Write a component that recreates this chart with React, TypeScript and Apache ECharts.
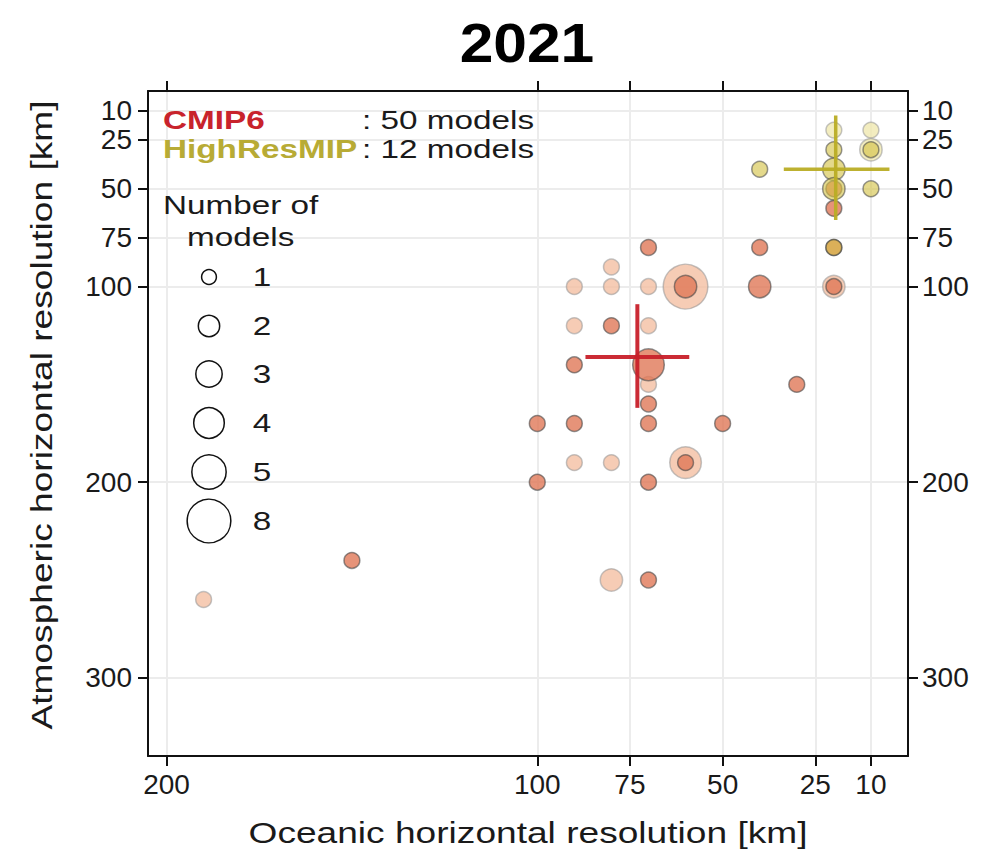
import React, { useEffect, useRef } from "react";
import * as echarts from "echarts";

// Axis ticks
const xTicks = [200, 100, 75, 50, 25, 10];
const yTicks = [10, 25, 50, 75, 100, 200, 300];

// [oceanic km, atmospheric km, number of models]
const cmipFaded = [
  [80, 90, 1], [90, 100, 1], [80, 100, 1], [70, 100, 1], [60, 100, 8],
  [90, 120, 1], [70, 120, 1], [70, 150, 1], [90, 190, 1], [80, 190, 1],
  [60, 190, 4], [80, 250, 2], [190, 260, 1], [20, 100, 2],
];
const cmipMain = [
  [70, 80, 1], [40, 80, 1], [60, 100, 2], [40, 100, 2], [20, 100, 1],
  [80, 120, 1], [90, 140, 1], [70, 140, 4], [30, 150, 1], [70, 160, 1],
  [100, 170, 1], [90, 170, 1], [70, 170, 1], [50, 170, 1], [60, 190, 1],
  [100, 200, 1], [70, 200, 1], [150, 240, 1], [70, 250, 1],
  [20, 60, 1], [20, 80, 1], [20, 50, 1],
];
const hrFaded = [[20, 20, 1], [10, 20, 1], [10, 30, 2]];
const hrMain = [
  [20, 30, 1], [10, 30, 1], [20, 40, 2], [40, 40, 1], [20, 50, 2],
  [10, 50, 1], [20, 80, 1],
];

// mean and spread (crosshairs)
const cmipMean = [73, 136];
const cmipOceanRange = [87, 59];
const cmipAtmosRange = [109, 162];
const hrMean = [19.5, 40];
const hrOceanRange = [33.5, 5];
const hrAtmosRange = [12.5, 66];

const legendCounts = [1, 2, 3, 4, 5, 8];
const SIZE_K = 15.8;

const FONT = '"Liberation Sans", Arial, Helvetica, sans-serif';
const SX = 1.28;

function txt(text: string, x: number, y: number, size: number, opts: any = {}) {
  return {
    type: "text",
    x,
    y,
    scaleX: opts.scaleX ?? SX,
    rotation: opts.rotation ?? 0,
    z: 100,
    style: {
      text,
      fontFamily: FONT,
      fontSize: size,
      fontWeight: opts.bold ? "bold" : "normal",
      fill: opts.color ?? "#1a1a1a",
      textAlign: opts.align ?? "left",
      textVerticalAlign: "middle",
      align: opts.align ?? "left",
      verticalAlign: "middle",
    },
  };
}

export default function App() {
  const ref = useRef<HTMLDivElement>(null);
  useEffect(() => {
    const chart = echarts.init(ref.current!, null, { renderer: "svg" });
    const sym = (v: number[]) => SIZE_K * Math.sqrt(v[2]);
    const axisCommon = {
      type: "value",
      axisLine: { show: true, onZero: false, lineStyle: { color: "#111", width: 2 } },
      axisTick: { show: true, inside: false, length: 10, lineStyle: { color: "#111", width: 2 } },
    };
    const labelStyle = { fontFamily: FONT, fontSize: 28, color: "#1a1a1a" };
    const legendY = [277, 326, 374, 423, 472, 521];
    const graphics: any[] = [
      txt("2021", 527, 42, 56, { bold: true, align: "center", scaleX: 1.08, color: "#000" }),
      txt("CMIP6", 163, 120, 26, { bold: true, color: "#c8232c" }),
      txt("HighResMIP", 163, 149, 26, { bold: true, color: "#b8ab35" }),
      txt(": 50 models", 362, 120, 26),
      txt(": 12 models", 362, 149, 26),
      txt("Number of", 163, 205, 26),
      txt("models", 187, 237, 26),
      txt("Oceanic horizontal resolution [km]", 528, 833, 29, { align: "center" }),
      txt("Atmospheric horizontal resolution [km]", 42, 415, 29, {
        align: "center",
        rotation: Math.PI / 2,
      }),
    ];
    legendCounts.forEach((n, i) => {
      graphics.push({
        type: "circle",
        z: 100,
        shape: { cx: 209, cy: legendY[i], r: (SIZE_K * Math.sqrt(n)) / 2 - 0.5 },
        style: { fill: "none", stroke: "#111", lineWidth: 1.5 },
      });
      graphics.push(txt(String(n), 262, legendY[i], 26, { align: "center" }));
    });

    const option: any = {
      animation: false,
      backgroundColor: "#fff",
      grid: { left: 148, right: 86, top: 91, bottom: 103, containLabel: false },
      xAxis: [
        {
          ...axisCommon,
          position: "bottom",
          min: 0,
          max: 205,
          inverse: true,
          axisTick: { ...axisCommon.axisTick, customValues: xTicks },
          axisLabel: { ...labelStyle, margin: 14, customValues: xTicks },
          splitLine: { show: true, lineStyle: { color: "#ececec", width: 2 } },
        },
        {
          ...axisCommon,
          position: "top",
          min: 0,
          max: 205,
          inverse: true,
          axisTick: { ...axisCommon.axisTick, customValues: xTicks },
          axisLabel: { show: false },
          splitLine: { show: false },
        },
      ],
      yAxis: [
        {
          ...axisCommon,
          position: "left",
          min: 0,
          max: 340,
          inverse: true,
          axisTick: { ...axisCommon.axisTick, customValues: yTicks },
          axisLabel: { ...labelStyle, margin: 16, customValues: yTicks },
          splitLine: { show: true, lineStyle: { color: "#ececec", width: 2 } },
        },
        {
          ...axisCommon,
          position: "right",
          min: 0,
          max: 340,
          inverse: true,
          axisTick: { ...axisCommon.axisTick, customValues: yTicks },
          axisLabel: { ...labelStyle, margin: 14, customValues: yTicks },
          splitLine: { show: false },
        },
      ],
      series: [
        {
          type: "scatter",
          data: cmipFaded,
          symbolSize: sym,
          z: 2,
          itemStyle: { color: "#f4bfa2", borderColor: "rgba(150,150,150,0.7)", borderWidth: 1.5 },
        },
        {
          type: "scatter",
          data: cmipMain,
          symbolSize: sym,
          z: 3,
          itemStyle: { color: "#e07858", borderColor: "rgba(70,70,70,0.75)", borderWidth: 1.5 },
        },
        {
          type: "scatter",
          data: hrFaded,
          symbolSize: sym,
          z: 4,
          itemStyle: { color: "#f0e9b0", borderColor: "rgba(150,150,150,0.7)", borderWidth: 1.5 },
        },
        {
          type: "scatter",
          data: hrMain,
          symbolSize: sym,
          z: 5,
          itemStyle: { color: "rgba(212,194,70,0.78)", borderColor: "rgba(70,70,70,0.7)", borderWidth: 1.5 },
        },
        {
          type: "line",
          z: 6,
          showSymbol: false,
          data: [[cmipOceanRange[0], cmipMean[1]], [cmipOceanRange[1], cmipMean[1]]],
          lineStyle: { color: "#c8202a", width: 4, opacity: 0.95 },
        },
        {
          type: "line",
          z: 6,
          showSymbol: false,
          data: [[cmipMean[0], cmipAtmosRange[0]], [cmipMean[0], cmipAtmosRange[1]]],
          lineStyle: { color: "#c8202a", width: 4, opacity: 0.95 },
        },
        {
          type: "line",
          z: 6,
          showSymbol: false,
          data: [[hrOceanRange[0], hrMean[1]], [hrOceanRange[1], hrMean[1]]],
          lineStyle: { color: "#b9ad25", width: 3.5, opacity: 0.95 },
        },
        {
          type: "line",
          z: 6,
          showSymbol: false,
          data: [[hrMean[0], hrAtmosRange[0]], [hrMean[0], hrAtmosRange[1]]],
          lineStyle: { color: "#b9ad25", width: 3.5, opacity: 0.95 },
        },
      ],
      graphic: graphics,
    };
    chart.setOption(option);
    return () => chart.dispose();
  }, []);
  return (
    <div
      ref={ref}
      style={{ position: "absolute", left: 0, top: 0, width: 994, height: 859, background: "#fff" }}
    />
  );
}
